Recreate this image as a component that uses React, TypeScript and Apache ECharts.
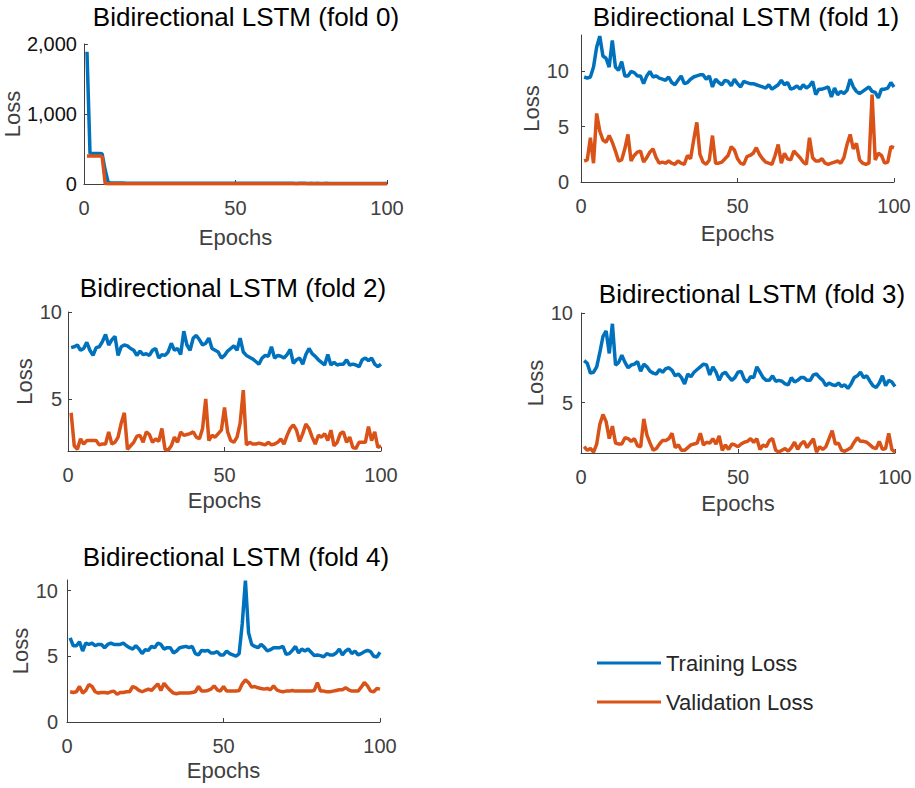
import React, { useEffect, useRef } from "react";
import * as echarts from "echarts";

// ---------------- data ----------------
const epochs = [
  1, 2, 3, 4, 5, 6, 7, 8, 9, 10, 11, 12, 13, 14, 15, 16, 17, 18, 19, 20,
  21, 22, 23, 24, 25, 26, 27, 28, 29, 30, 31, 32, 33, 34, 35, 36, 37, 38, 39, 40,
  41, 42, 43, 44, 45, 46, 47, 48, 49, 50, 51, 52, 53, 54, 55, 56, 57, 58, 59, 60,
  61, 62, 63, 64, 65, 66, 67, 68, 69, 70, 71, 72, 73, 74, 75, 76, 77, 78, 79, 80,
  81, 82, 83, 84, 85, 86, 87, 88, 89, 90, 91, 92, 93, 94, 95, 96, 97, 98, 99, 100,
];

const foldTitles = [
  "Bidirectional LSTM (fold 0)",
  "Bidirectional LSTM (fold 1)",
  "Bidirectional LSTM (fold 2)",
  "Bidirectional LSTM (fold 3)",
  "Bidirectional LSTM (fold 4)",
];

const seriesNames = ["Training Loss", "Validation Loss"];
const xTickLabels = [0, 50, 100];

const train0 = [
  1890, 435, 435, 435, 435, 432, 200, 22, 16, 14,
  13.5, 13, 12.6, 12.2, 12, 11.8, 11.5, 11.3, 11.2, 11,
  10.9, 10.7, 10.8, 10.5, 10.4, 10.6, 10.3, 10.2, 10.4, 10.1,
  10.2, 9.9, 10.1, 10.3, 9.8, 10.0, 9.9, 10.2, 9.7, 9.9,
  10.0, 9.6, 9.8, 9.9, 9.7, 9.5, 9.8, 9.6, 9.7, 9.4,
  9.6, 9.5, 9.7, 9.3, 9.5, 9.6, 9.4, 9.2, 9.5, 9.3,
  9.4, 9.1, 9.3, 9.4, 9.2, 9.0, 9.3, 9.1, 9.2, 8.9,
  9.1, 9.2, 9.0, 8.8, 9.1, 8.9, 9.0, 8.7, 8.9, 9.0,
  8.8, 8.6, 8.9, 8.7, 8.8, 8.5, 8.7, 8.8, 8.6, 8.4,
  8.7, 8.5, 8.6, 8.3, 8.5, 8.6, 8.4, 8.2, 8.5, 8.3,
];
const val0 = [
  400, 400, 400, 400, 400, 395, 8, 4.5, 3.8, 4.2,
  3.5, 3.9, 3.1, 4.4, 2.9, 3.3, 3.6, 2.8, 3.0, 3.4,
  2.7, 3.2, 2.9, 2.6, 3.5, 2.8, 2.5, 3.1, 2.7, 2.4,
  2.9, 2.6, 3.3, 2.5, 2.8, 2.3, 2.7, 3.0, 2.4, 2.6,
  2.5, 2.9, 2.3, 2.7, 2.4, 2.6, 2.2, 2.8, 2.5, 2.3,
  2.6, 2.4, 2.7, 2.2, 2.5, 2.3, 2.9, 2.4, 2.2, 2.6,
  2.3, 2.5, 2.1, 2.7, 2.4, 2.2, 2.5, 2.3, 2.6, 2.1,
  2.4, 2.2, 2.8, 2.3, 2.1, 2.5, 2.2, 2.4, 2.0, 2.3,
  2.5, 2.1, 2.3, 2.2, 2.6, 2.0, 2.4, 2.2, 2.1, 2.3,
  2.2, 2.0, 2.4, 2.1, 2.3, 2.2, 2.0, 2.3, 2.1, 2.2,
];

const train1 = [
  9.5, 9.4, 9.5, 10.4, 12.2, 13.2, 11.4, 11.2, 10.4, 12.8,
  10.4, 10.1, 10.9, 9.6, 9.6, 10.0, 9.9, 9.6, 9.6, 8.9,
  9.6, 10.0, 9.5, 9.6, 9.4, 9.3, 9.2, 9.5, 9.0, 8.8,
  9.2, 9.6, 8.9, 9.0, 9.3, 9.5, 9.6, 9.7, 9.7, 9.3,
  9.6, 8.6, 9.3, 9.0, 8.8, 9.2, 9.1, 8.7, 9.3, 8.9,
  8.6, 9.1, 9.0, 8.9, 8.9, 8.8, 8.7, 8.6, 8.5, 8.8,
  8.4, 8.6, 8.8, 9.2, 8.8, 9.0, 8.4, 8.5, 8.7, 8.4,
  8.8, 8.5, 8.7, 9.1, 7.9, 8.4, 8.4, 8.5, 8.6, 7.7,
  8.5, 7.9, 8.2, 8.0, 8.3, 9.3, 8.6, 8.2, 8.0, 8.2,
  8.4, 8.6, 8.2, 8.1, 7.6, 8.4, 8.4, 8.5, 9.0, 8.6,
];
const val1 = [
  1.9, 2.0, 4.0, 1.7, 6.2, 4.6, 3.8, 3.6, 4.2, 3.6,
  2.8, 1.9, 2.0, 3.0, 4.3, 1.9, 2.4, 2.7, 2.8, 1.8,
  2.2, 2.7, 3.0, 2.2, 1.7, 1.8, 1.7, 1.9, 1.7, 1.6,
  1.9, 1.7, 1.6, 2.4, 2.1, 3.8, 5.4, 2.5, 1.8, 1.6,
  2.0, 4.2, 1.7, 1.7, 1.8, 2.1, 2.4, 3.2, 2.9, 2.1,
  1.7, 1.6, 2.3, 2.4, 2.6, 3.1, 2.5, 2.1, 1.8, 1.7,
  1.6, 2.4, 3.4, 1.7, 2.6, 2.1, 2.0, 2.8, 2.5, 2.2,
  1.8, 1.6, 4.0, 2.2, 1.9, 1.9, 2.1, 1.7, 1.6, 1.7,
  1.8, 1.9, 1.7, 2.2, 3.4, 4.3, 3.0, 3.5, 2.0, 1.7,
  1.6, 1.7, 7.9, 2.0, 2.6, 2.4, 1.7, 1.8, 3.2, 3.1,
];

const train2 = [
  7.95, 8.0, 8.1, 7.8, 7.9, 8.25, 7.8, 7.5, 7.95, 8.0,
  8.3, 8.7, 8.1, 8.4, 8.6, 7.5, 8.0, 8.1, 8.05, 7.9,
  7.8, 7.5, 7.75, 7.55, 7.6, 7.5, 7.8, 7.9, 7.35, 7.55,
  7.5, 7.7, 8.2, 7.8, 7.9, 7.55, 8.9, 8.1, 7.8, 8.5,
  8.65, 8.4, 8.1, 8.2, 8.5, 7.9, 7.8, 7.7, 7.35, 7.5,
  7.75, 7.9, 8.05, 7.8, 8.5, 7.7, 7.5, 7.4, 7.3, 7.15,
  7.0, 7.35, 7.5, 7.45, 8.0, 7.35, 7.5, 7.45, 7.35, 7.55,
  7.85, 7.05, 7.25, 7.35, 7.0, 7.55, 7.9, 7.6, 7.45, 7.25,
  7.1, 6.95, 7.55, 6.95, 7.1, 6.95, 7.0, 7.0, 7.25, 6.95,
  7.0, 6.95, 6.85, 7.25, 7.35, 7.2, 7.35, 7.0, 6.85, 7.0,
];
const val2 = [
  4.2, 2.3, 2.1, 2.7, 2.4, 2.6, 2.6, 2.6, 2.6, 2.35,
  2.4, 2.4, 3.1, 2.4, 2.5, 2.8, 3.6, 4.2, 2.1, 2.3,
  2.5, 2.85, 2.9, 2.5, 3.1, 2.95, 2.5, 2.7, 2.55, 3.3,
  2.1, 2.05, 2.3, 2.8, 2.5, 3.1, 2.9, 2.95, 3.0, 3.1,
  2.8, 2.7, 3.3, 5.0, 2.6, 2.9, 2.8, 3.0, 3.2, 4.5,
  3.1, 2.6, 2.5, 2.8, 3.6, 5.5, 2.35, 2.5, 2.4, 2.4,
  2.45, 2.4, 2.35, 2.5, 2.35, 2.4, 2.5, 2.7, 2.4, 2.9,
  3.3, 3.5, 3.2, 2.55, 3.0, 3.55, 3.3, 2.8, 2.4, 2.9,
  2.8, 3.0, 2.6, 3.2, 2.3, 2.5, 3.0, 3.1, 2.5, 2.8,
  2.2, 2.15, 2.5, 2.5, 2.5, 3.4, 2.6, 3.1, 2.2, 2.3,
];

const train3 = [
  7.35, 7.2, 6.65, 6.7, 7.0, 7.8, 8.7, 9.0, 7.75, 9.4,
  7.1, 7.25, 7.65, 7.25, 6.95, 7.1, 7.15, 7.3, 6.75, 7.15,
  7.0, 6.75, 6.65, 6.6, 6.85, 6.7, 6.9, 6.95, 6.8, 6.5,
  6.6, 6.4, 6.05, 6.6, 6.45, 6.7, 6.85, 7.0, 7.15, 7.1,
  6.55, 7.0, 6.7, 6.25, 6.6, 6.7, 6.45, 6.25, 6.4, 6.7,
  6.75, 6.3, 6.15, 6.45, 6.4, 7.0, 6.7, 6.4, 6.25, 6.25,
  6.5, 6.2, 6.25, 6.2, 6.05, 6.0, 6.4, 6.15, 6.25, 6.4,
  6.4, 6.25, 6.25, 6.55, 6.6, 6.4, 6.25, 5.95, 6.1, 6.0,
  5.95, 6.1, 5.9, 6.0, 5.8, 6.05, 6.4, 6.5, 6.7, 6.4,
  6.5, 6.2, 5.95, 5.85, 6.1, 6.5, 5.95, 6.25, 6.15, 5.9,
];
const val3 = [
  2.55, 2.35, 2.45, 2.25, 2.7, 3.8, 4.35, 3.95, 3.0, 3.7,
  2.75, 2.7, 2.7, 3.05, 3.0, 2.85, 3.0, 2.6, 2.55, 4.1,
  3.2, 2.75, 2.35, 2.45, 2.7, 2.9, 2.9, 3.0, 3.3, 2.5,
  2.65, 2.35, 2.35, 2.5, 2.65, 2.7, 2.75, 3.3, 2.65, 2.8,
  2.75, 3.0, 2.7, 3.15, 2.35, 2.65, 2.4, 2.7, 2.65, 2.55,
  2.7, 2.8, 2.85, 3.0, 2.8, 3.0, 2.4, 2.65, 2.55, 2.9,
  3.0, 2.35, 2.25, 2.35, 2.45, 2.3, 2.5, 2.8, 2.4, 2.7,
  2.85, 2.5, 2.75, 3.0, 2.25, 2.55, 2.4, 2.55, 3.0, 3.45,
  2.7, 2.75, 2.35, 2.3, 2.4, 2.5, 2.8, 3.05, 2.85, 2.85,
  2.8, 2.65, 2.5, 2.45, 2.85, 2.4, 2.45, 3.3, 2.4, 2.25,
];

const train4 = [
  6.4, 5.8, 5.8, 6.1, 5.4, 6.0, 5.9, 6.0, 5.8, 5.9,
  5.9, 5.65, 5.9, 6.0, 5.9, 5.9, 5.9, 6.0, 5.8, 5.65,
  5.55, 5.8, 5.55, 5.2, 5.5, 5.45, 5.75, 5.65, 6.0, 5.9,
  5.55, 5.65, 5.65, 5.25, 5.4, 5.65, 5.7, 5.75, 5.65, 5.75,
  5.2, 5.1, 5.45, 5.4, 5.45, 5.25, 5.25, 5.35, 5.1, 5.1,
  5.4, 5.2, 5.1, 5.0, 5.2, 7.5, 10.75, 6.8, 5.9, 5.75,
  5.65, 5.9, 5.7, 5.4, 5.5, 5.65, 5.65, 5.65, 5.75, 5.15,
  5.2, 5.45, 5.75, 5.25, 5.55, 5.4, 5.55, 5.3, 5.05, 5.1,
  5.05, 4.95, 5.2, 5.1, 5.1, 5.25, 5.55, 5.1, 5.4, 5.55,
  5.2, 5.4, 5.1, 5.2, 5.35, 5.45, 5.35, 5.0, 4.95, 5.3,
];
const val4 = [
  2.3, 2.25, 2.3, 2.7, 2.2, 2.4, 2.85, 2.7, 2.3, 2.2,
  2.25, 2.25, 2.2, 2.3, 2.35, 2.1, 2.25, 2.25, 2.3, 2.3,
  2.7, 2.6, 2.4, 2.3, 2.4, 2.5, 2.4, 2.65, 2.9, 2.4,
  2.95, 2.65, 2.4, 2.2, 2.15, 2.2, 2.2, 2.2, 2.2, 2.25,
  2.3, 2.7, 2.35, 2.35, 2.4, 2.5, 2.75, 2.45, 2.35, 2.7,
  2.35, 2.35, 2.35, 2.35, 2.4, 2.9, 3.2, 3.0, 2.65, 2.7,
  2.6, 2.55, 2.5, 2.55, 2.45, 2.75, 2.45, 2.35, 2.3, 2.35,
  2.35, 2.4, 2.35, 2.35, 2.35, 2.35, 2.35, 2.35, 2.4, 3.0,
  2.35, 2.35, 2.3, 2.3, 2.35, 2.4, 2.45, 2.45, 2.6, 2.45,
  2.35, 2.35, 2.35, 2.65, 3.0, 2.75, 2.35, 2.3, 2.55, 2.5,
];

const trainSets = [train0, train1, train2, train3, train4];
const valSets = [val0, val1, val2, val3, val4];

// y-axis ranges and tick labels per fold
const yMins = [0, 0, 2, 2.2, 0];
const yMaxs = [2000, 13.3, 10, 10, 10.8];
const yTickLabels = [
  [0, 1000, 2000],
  [0, 5, 10],
  [5, 10],
  [5, 10],
  [0, 5, 10],
];

// ---------------- layout ----------------
const layout = [
  { left: 79.5, top: 44, width: 307.5, height: 140, titleX: 246, titleTop: 4, xNameGap: 42, yNameGap: 51, yLabelMargin: 7 },
  { left: 581, top: 35, width: 313, height: 147, titleX: 746, titleTop: 4, xNameGap: 40, yNameGap: 30, yLabelMargin: 12 },
  { left: 68, top: 312, width: 313, height: 139, titleX: 233, titleTop: 275, xNameGap: 38, yNameGap: 30, yLabelMargin: 6 },
  { left: 581, top: 313, width: 314, height: 140, titleX: 752, titleTop: 281, xNameGap: 39, yNameGap: 30, yLabelMargin: 8 },
  { left: 67, top: 580, width: 313, height: 142, titleX: 236, titleTop: 544, xNameGap: 37, yNameGap: 31, yLabelMargin: 9 },
];

const BLUE = "#0072BD";
const ORANGE = "#D95319";
const AXIS_COLOR = "#404040";
const FONT = "Liberation Sans, Arial, Helvetica, sans-serif";

export default function App() {
  const ref = useRef<HTMLDivElement>(null);

  useEffect(() => {
    if (!ref.current) return;
    const chart = echarts.init(ref.current, null, { renderer: "svg" });

    const grids = layout.map((l) => ({
      left: l.left,
      top: l.top,
      width: l.width,
      height: l.height,
      containLabel: false,
    }));

    const titles = layout.map((l, i) => ({
      text: foldTitles[i],
      left: l.titleX,
      top: l.titleTop,
      textAlign: "center",
      padding: 0,
      textStyle: {
        fontFamily: FONT,
        fontSize: 26,
        fontWeight: "normal",
        color: "#000000",
      },
    }));

    const xAxes = layout.map((l, i) => ({
      type: "value",
      gridIndex: i,
      min: 0,
      max: 100,
      interval: 50,
      name: "Epochs",
      nameLocation: "middle",
      nameGap: l.xNameGap,
      nameTextStyle: { fontFamily: FONT, fontSize: 22, color: AXIS_COLOR },
      axisLine: { show: true, onZero: false, lineStyle: { color: AXIS_COLOR, width: 1 } },
      axisTick: { show: true, inside: true, length: 4, lineStyle: { color: AXIS_COLOR } },
      axisLabel: {
        show: true,
        margin: 14,
        fontFamily: FONT,
        fontSize: 20,
        color: AXIS_COLOR,
        customValues: xTickLabels,
      },
      splitLine: { show: false },
    }));

    const yAxes = layout.map((l, i) => ({
      type: "value",
      gridIndex: i,
      min: yMins[i],
      max: yMaxs[i],
      name: "Loss",
      nameLocation: "middle",
      nameRotate: 90,
      nameGap: l.yNameGap,
      nameTextStyle: { fontFamily: FONT, fontSize: 22, color: AXIS_COLOR },
      axisLine: { show: true, onZero: false, lineStyle: { color: AXIS_COLOR, width: 1 } },
      axisTick: {
        show: true,
        inside: true,
        length: 4,
        lineStyle: { color: AXIS_COLOR },
        customValues: yTickLabels[i],
      },
      axisLabel: {
        show: true,
        margin: l.yLabelMargin,
        fontFamily: FONT,
        fontSize: 20,
        color: i === 0 ? "#111111" : AXIS_COLOR,
        customValues: yTickLabels[i],
        formatter: (v: number) => Number(v).toLocaleString("en-US"),
      },
      splitLine: { show: false },
    }));

    const series: any[] = [];
    for (let i = 0; i < 5; i++) {
      series.push({
        name: seriesNames[0],
        type: "line",
        xAxisIndex: i,
        yAxisIndex: i,
        data: epochs.map((e, k) => [e, trainSets[i][k]]),
        showSymbol: false,
        symbol: "none",
        clip: true,
        color: BLUE,
        itemStyle: { color: BLUE },
        lineStyle: { color: BLUE, width: 3.5 },
      });
      series.push({
        name: seriesNames[1],
        type: "line",
        xAxisIndex: i,
        yAxisIndex: i,
        data: epochs.map((e, k) => [e, valSets[i][k]]),
        showSymbol: false,
        symbol: "none",
        clip: true,
        color: ORANGE,
        itemStyle: { color: ORANGE },
        lineStyle: { color: ORANGE, width: 3.5 },
      });
    }

    chart.setOption({
      animation: false,
      backgroundColor: "#ffffff",
      textStyle: { fontFamily: FONT },
      title: titles,
      grid: grids,
      xAxis: xAxes,
      yAxis: yAxes,
      legend: {
        data: seriesNames,
        orient: "vertical",
        left: 597,
        top: 652,
        padding: 0,
        icon: "rect",
        itemWidth: 64,
        itemHeight: 3,
        itemGap: 17,
        textStyle: { fontFamily: FONT, fontSize: 22, color: "#262626" },
      },
      series,
    });

    return () => {
      chart.dispose();
    };
  }, []);

  return (
    <div
      ref={ref}
      style={{ position: "fixed", left: 0, top: 0, width: 915, height: 788, background: "#fff" }}
    />
  );
}
